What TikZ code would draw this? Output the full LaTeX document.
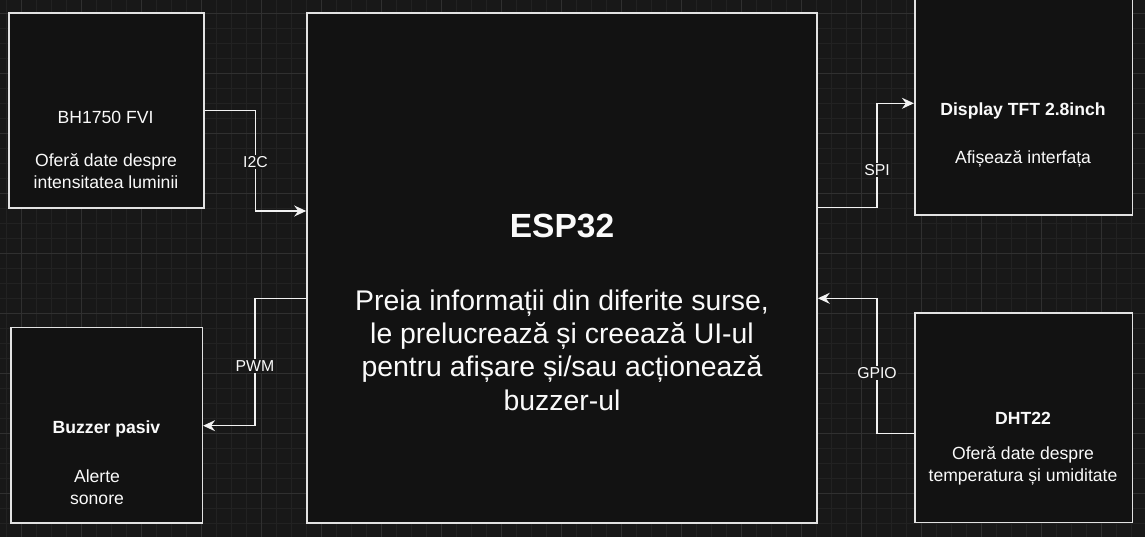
\documentclass[tikz,border=0pt]{standalone}
\usepackage{fontspec}
\setmainfont{Liberation Sans}
\usetikzlibrary{arrows.meta}
\definecolor{bgc}{HTML}{181818}
\definecolor{minorc}{HTML}{222222}
\definecolor{majorc}{HTML}{303030}
\definecolor{boxfill}{HTML}{121212}
\definecolor{boxline}{HTML}{E2E2E2}
\definecolor{linec}{HTML}{F2F2F2}
\definecolor{txtc}{HTML}{FAFAFA}
\tikzset{
  box/.style={draw=boxline, line width=1.6pt, fill=boxfill, inner sep=0pt},
  conn/.style={draw=linec, line width=1.4pt, -{Stealth[length=12pt,width=11pt,inset=4pt]}},
  lbl/.style={fill=bgc, text=txtc, inner sep=1.5pt, font=\fontsize{15.8}{18}\selectfont},
  tx/.style={text=txtc, anchor=base, inner sep=0pt, font=\fontsize{17.6}{21}\selectfont},
  txb/.style={tx, font=\fontsize{17.6}{21}\selectfont\bfseries},
}
\begin{document}
\begin{tikzpicture}[x=1pt,y=-1pt]
\clip (0,0) rectangle (1145,537);
\fill[bgc] (0,0) rectangle (1145,537);
% grid
\foreach \i in {0,...,76} {
  \draw[minorc, line width=0.8pt] (6.7+15*\i,0) -- ++(0,537);
}
\foreach \i in {0,...,36} {
  \draw[minorc, line width=0.8pt] (0,-1.7+15*\i) -- ++(1145,0);
}
\foreach \i in {0,...,19} {
  \draw[majorc, line width=0.9pt] (21.7+60*\i,0) -- ++(0,537);
}
\foreach \i in {0,...,9} {
  \draw[majorc, line width=0.9pt] (0,13.3+60*\i) -- ++(1145,0);
}
% boxes
\node[box, minimum width=195.3pt, minimum height=195pt] (bh) at (106.4,110.8) {};
\node[box, minimum width=510pt, minimum height=509.4pt] (esp) at (562,268) {};
\node[box, minimum width=217.6pt, minimum height=225pt] (disp) at (1023.5,102.5) {};
\node[box, minimum width=217.6pt, minimum height=209.8pt] (dht) at (1023.5,417.6) {};
\node[box, minimum width=191.6pt, minimum height=195.4pt] (buz) at (106.5,425) {};
% texts
\node[tx] (bh1) at (105.5,123.3) {BH1750 FVI};
\node[tx] (bh2) at (106,166.3) {Oferă date despre};
\node[tx] (bh3) at (106,188.3) {intensitatea luminii};
\node[text=txtc, anchor=base, inner sep=0pt, font=\fontsize{33.5}{40}\selectfont\bfseries] (esp1) at (562,238) {ESP32};
\node[text=txtc, anchor=base, inner sep=0pt, font=\fontsize{28.4}{33.3}\selectfont] (esp2) at (562,310.2) {Preia informații din diferite surse,};
\node[text=txtc, anchor=base, inner sep=0pt, font=\fontsize{28.4}{33.3}\selectfont] (esp3) at (562,343.5) {le prelucrează și creează UI-ul};
\node[text=txtc, anchor=base, inner sep=0pt, font=\fontsize{28.4}{33.3}\selectfont] (esp4) at (562,376.8) {pentru afișare și/sau acționează};
\node[text=txtc, anchor=base, inner sep=0pt, font=\fontsize{28.4}{33.3}\selectfont] (esp5) at (562,410.1) {buzzer-ul};
\node[txb] (d1) at (1023,115.6) {Display TFT 2.8inch};
\node[tx] (d2) at (1023,163.3) {Afișează interfața};
\node[txb] (h1) at (1023,424) {DHT22};
\node[tx] (h2) at (1023,459.3) {Oferă date despre};
\node[tx] (h3) at (1023,481.3) {temperatura și umiditate};
\node[txb] (b1) at (106.5,433) {Buzzer pasiv};
\node[tx] (b2) at (97,482.3) {Alerte};
\node[tx] (b3) at (97,504) {sonore};
% connectors
\coordinate (i2cA) at (255.5,110.8);
\coordinate (i2cB) at (255.5,211);
\draw[conn] (bh.east) -- (i2cA) -- (i2cB) -- (esp.west |- i2cB);
\node[lbl] (li2c) at (255.5,162) {I2C};
\coordinate (pwmA) at (255,298.3);
\coordinate (pwmB) at (255,425.7);
\draw[conn] (esp.west |- pwmA) -- (pwmA) -- (pwmB) -- (buz.east |- pwmB);
\node[lbl] (lpwm) at (255,366) {PWM};
\coordinate (spiA) at (877,207.7);
\coordinate (spiB) at (877,103.3);
\draw[conn] (esp.east |- spiA) -- (spiA) -- (spiB) -- (disp.west |- spiB);
\node[lbl] (lspi) at (877,170) {SPI};
\coordinate (gpA) at (877,433.3);
\coordinate (gpB) at (877,298.3);
\draw[conn] (dht.west |- gpA) -- (gpA) -- (gpB) -- (esp.east |- gpB);
\node[lbl] (lgp) at (877,373) {GPIO};
\end{tikzpicture}
\end{document}
